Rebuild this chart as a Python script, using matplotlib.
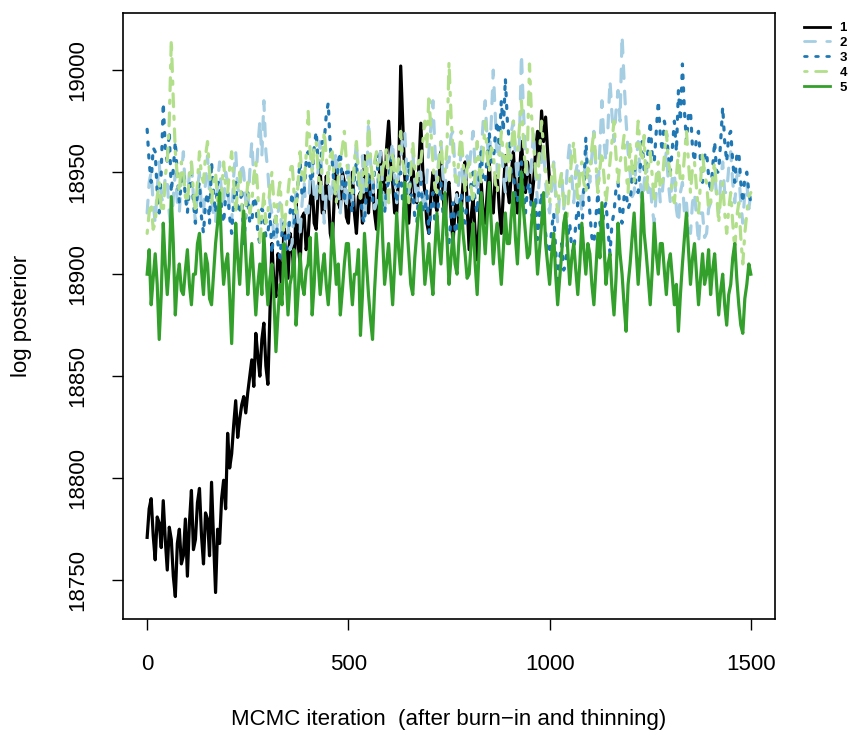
import numpy as np
import matplotlib
matplotlib.use("Agg")
import matplotlib.pyplot as plt
from matplotlib.lines import Line2D

plt.rcParams['font.family'] = ['Liberation Sans', 'DejaVu Sans']

# Thinned MCMC log-posterior traces, one stored value every 5 iterations
step = 5

chain1 = [
    18771, 18785, 18790, 18772, 18760, 18781, 18778, 18766, 18789, 18770,
    18755, 18776, 18770, 18752, 18742, 18768, 18775, 18758, 18762, 18780,
    18752, 18778, 18794, 18765, 18770, 18788, 18795, 18772, 18758, 18783,
    18780, 18762, 18798, 18770, 18744, 18775, 18768, 18790, 18799, 18785,
    18822, 18805, 18812, 18826, 18838, 18820, 18829, 18836, 18840, 18832,
    18842, 18850, 18858, 18845, 18871, 18860, 18850, 18868, 18876, 18855,
    18846, 18881, 18915, 18895, 18889, 18910, 18905, 18890, 18925, 18912,
    18898, 18920, 18913, 18900, 18935, 18915, 18905, 18928, 18930, 18912,
    18918, 18935, 18945, 18925, 18922, 18940, 18951, 18930, 18930, 18948,
    18940, 18920, 18915, 18938, 18955, 18935, 18932, 18950, 18945, 18928,
    18925, 18942, 18950, 18930, 18920, 18938, 18940, 18925, 18958, 18940,
    18930, 18948, 18947, 18930, 18922, 18940, 18960, 18942, 18935, 18962,
    18975, 18955, 18945, 18930, 18930, 18950, 19002, 18975, 18948, 18935,
    18925, 18942, 18955, 18938, 18935, 18952, 18974, 18950, 18940, 18925,
    18920, 18938, 18950, 18935, 18931, 18948, 18960, 18940, 18925, 18942,
    18945, 18930, 18915, 18932, 18940, 18922, 18930, 18945, 18955, 18935,
    18912, 18928, 18938, 18920, 18907, 18925, 18945, 18930, 18925, 18940,
    18955, 18935, 18930, 18948, 18948, 18932, 18920, 18940, 18958, 18942,
    18935, 18950, 18960, 18942, 18930, 18948, 18965, 18950, 18940, 18955,
    18950, 18935, 18945, 18960, 18970, 18955, 18980, 18965, 18977, 18960,
    18945,
]

chain2 = [
    18930, 18945, 18950, 18935, 18925, 18942, 18955, 18938, 18935, 18948,
    18945, 18930, 18920, 18938, 18950, 18935, 18930, 18948, 18960, 18940,
    18935, 18950, 18955, 18938, 18925, 18942, 18950, 18932, 18930, 18945,
    18958, 18940, 18940, 18928, 18925, 18945, 18955, 18938, 18935, 18950,
    18945, 18930, 18925, 18948, 18960, 18942, 18940, 18955, 18950, 18935,
    18930, 18950, 18965, 18948, 18945, 18962, 18975, 18958, 18985, 18960,
    18950, 18935, 18930, 18918, 18915, 18930, 18935, 18920, 18907, 18922,
    18925, 18912, 18915, 18932, 18940, 18925, 18920, 18935, 18945, 18930,
    18930, 18948, 18955, 18938, 18935, 18952, 18965, 18945, 18925, 18940,
    18950, 18935, 18940, 18955, 18960, 18942, 18930, 18948, 18945, 18932,
    18955, 18940, 18935, 18952, 18965, 18945, 18940, 18958, 18925, 18942,
    18975, 18955, 18945, 18932, 18935, 18950, 18960, 18942, 18930, 18945,
    18945, 18958, 18965, 18948, 18935, 18950, 18955, 18968, 18970, 18952,
    18940, 18955, 18960, 18945, 18935, 18950, 18950, 18935, 18930, 18948,
    18960, 18972, 18985, 18962, 18945, 18958, 18965, 18948, 18940, 18955,
    18955, 18968, 18970, 18950, 18935, 18948, 18960, 18942, 18945, 18958,
    18950, 18962, 18970, 18952, 18940, 18955, 18960, 18975, 18985, 18965,
    18955, 18975, 19000, 18978, 18950, 18962, 18965, 18948, 18940, 18955,
    18960, 18970, 18975, 18958, 18945, 18965, 19008, 18980, 18960, 18948,
    18940, 18955, 18970, 18950, 18935, 18948, 18955, 18962, 18945, 18935,
    18930, 18942, 18955, 18938, 18925, 18940, 18950, 18932, 18940, 18955,
    18965, 18948, 18935, 18950, 18955, 18942, 18930, 18945, 18960, 18950,
    18945, 18958, 18970, 18952, 18940, 18962, 18985, 18965, 18955, 18972,
    18995, 18978, 18965, 18980, 18990, 18975, 19017, 18995, 18975, 18960,
    18950, 18938, 18940, 18955, 18965, 18948, 18930, 18945, 18955, 18940,
    18945, 18932, 18925, 18940, 18950, 18935, 18940, 18952, 18960, 18945,
    18935, 18948, 18950, 18932, 18925, 18940, 18945, 18930, 18935, 18922,
    18920, 18935, 18940, 18928, 18915, 18930, 18930, 18918, 18920, 18932,
    18935, 18945, 18950, 18938, 18930, 18945, 18955, 18940, 18940, 18952,
    18960, 18945, 18935, 18948, 18950, 18935, 18925, 18940, 18945, 18932,
    18940,
]

chain3 = [
    18971, 18955, 18945, 18962, 18960, 18940, 18930, 18950, 18984, 18962,
    18955, 18970, 18940, 18952, 18965, 18948, 18935, 18945, 18950, 18938,
    18930, 18942, 18950, 18935, 18925, 18940, 18945, 18928, 18920, 18935,
    18940, 18925, 18955, 18940, 18930, 18945, 18945, 18932, 18925, 18938,
    18940, 18928, 18920, 18935, 18945, 18930, 18930, 18942, 18915, 18928,
    18940, 18925, 18925, 18938, 18935, 18920, 18915, 18932, 18930, 18918,
    18920, 18930, 18910, 18922, 18930, 18915, 18908, 18920, 18925, 18912,
    18915, 18930, 18940, 18925, 18930, 18945, 18955, 18938, 18940, 18955,
    18960, 18948, 18945, 18962, 18970, 18955, 18950, 18965, 18965, 18978,
    18984, 18962, 18955, 18942, 18940, 18955, 18960, 18945, 18935, 18950,
    18950, 18935, 18930, 18948, 18955, 18940, 18940, 18928, 18925, 18942,
    18950, 18938, 18935, 18952, 18960, 18945, 18945, 18932, 18930, 18942,
    18945, 18955, 18960, 18942, 18935, 18948, 18950, 18935, 18930, 18945,
    18955, 18938, 18940, 18928, 18925, 18940, 18945, 18932, 18930, 18942,
    18920, 18932, 18940, 18925, 18925, 18938, 18945, 18930, 18930, 18918,
    18915, 18928, 18935, 18922, 18920, 18932, 18940, 18928, 18925, 18938,
    18935, 18945, 18950, 18935, 18930, 18948, 18960, 18945, 18945, 18958,
    18970, 18955, 18955, 18968, 18975, 18962, 18985, 18970, 18996, 18975,
    18965, 18950, 18950, 18938, 18935, 18948, 18955, 18940, 18930, 18942,
    18945, 18930, 18925, 18938, 18917, 18930, 18940, 18925, 18920, 18912,
    18910, 18922, 18930, 18912, 18894, 18908, 18915, 18902, 18905, 18918,
    18925, 18912, 18910, 18925, 18935, 18920, 18920, 18942, 18967, 18945,
    18930, 18918, 18915, 18928, 18940, 18925, 18920, 18932, 18935, 18922,
    18910, 18925, 18930, 18942, 18945, 18930, 18925, 18938, 18940, 18932,
    18935, 18948, 18955, 18942, 18940, 18952, 18965, 18950, 18950, 18962,
    18975, 18958, 18955, 18970, 18985, 18968, 18960, 18975, 18970, 18958,
    18950, 18962, 18975, 18960, 18990, 18975, 19003, 18980, 18965, 18978,
    18980, 18962, 18955, 18968, 18970, 18955, 18945, 18958, 18960, 18948,
    18940, 18952, 18965, 18950, 18950, 18965, 18982, 18965, 18955, 18968,
    18970, 18955, 18945, 18958, 18960, 18945, 18935, 18948, 18950, 18940,
    18935,
]

chain4 = [
    18920, 18930, 18935, 18922, 18925, 18938, 18945, 18932, 18930, 18948,
    18955, 18975, 19015, 18985, 18960, 18948, 18940, 18955, 18950, 18938,
    18935, 18948, 18955, 18940, 18930, 18945, 18960, 18948, 18945, 18958,
    18965, 18950, 18935, 18945, 18950, 18935, 18925, 18940, 18955, 18942,
    18940, 18952, 18960, 18945, 18930, 18942, 18950, 18935, 18920, 18932,
    18945, 18930, 18935, 18948, 18955, 18940, 18915, 18928, 18940, 18925,
    18930, 18942, 18950, 18935, 18925, 18938, 18945, 18930, 18920, 18932,
    18940, 18950, 18955, 18940, 18930, 18945, 18960, 18948, 18945, 18958,
    18980, 18960, 18950, 18962, 18965, 18950, 18940, 18955, 18970, 18958,
    18945, 18958, 18960, 18945, 18935, 18948, 18955, 18962, 18970, 18955,
    18950, 18938, 18940, 18955, 18965, 18950, 18935, 18948, 18955, 18942,
    18975, 18958, 18945, 18955, 18960, 18948, 18940, 18952, 18955, 18962,
    18935, 18948, 18960, 18950, 18945, 18958, 18970, 18955, 18950, 18940,
    18935, 18950, 18965, 18952, 18945, 18958, 18955, 18965, 18975, 18962,
    18988, 18970, 18955, 18942, 18940, 18955, 18965, 18952, 18950, 18962,
    19004, 18978, 18960, 18948, 18945, 18958, 18970, 18955, 18940, 18952,
    18955, 18942, 18935, 18950, 18965, 18952, 18945, 18960, 18975, 18958,
    18950, 18962, 18960, 18945, 18940, 18955, 18970, 18958, 18955, 18965,
    18945, 18960, 18975, 18962, 18960, 18972, 18985, 18965, 18950, 18962,
    19003, 18978, 18965, 18950, 18945, 18960, 18975, 18962, 18950, 18942,
    18935, 18948, 18955, 18942, 18930, 18945, 18950, 18935, 18920, 18932,
    18945, 18958, 18965, 18950, 18935, 18948, 18955, 18945, 18940, 18952,
    18950, 18962, 18970, 18955, 18940, 18952, 18960, 18948, 18935, 18945,
    18955, 18965, 18975, 18958, 18945, 18955, 18960, 18968, 18950, 18940,
    18965, 18952, 18945, 18960, 18975, 18962, 18955, 18968, 18940, 18952,
    18960, 18948, 18935, 18948, 18955, 18942, 18945, 18958, 18970, 18955,
    18950, 18938, 18935, 18948, 18960, 18945, 18945, 18958, 18970, 18955,
    18940, 18952, 18955, 18942, 18930, 18945, 18960, 18948, 18945, 18932,
    18935, 18948, 18955, 18940, 18925, 18938, 18945, 18930, 18920, 18932,
    18940, 18925, 18912, 18928, 18935, 18918, 18905, 18920, 18930, 18938,
    18940,
]

chain5 = [
    18900, 18912, 18885, 18898, 18910, 18895, 18868, 18890, 18925, 18905,
    18890, 18905, 18938, 18915, 18880, 18898, 18905, 18892, 18890, 18902,
    18912, 18895, 18885, 18900, 18900, 18915, 18920, 18902, 18890, 18910,
    18905, 18888, 18885, 18900, 18915, 18925, 18940, 18912, 18895, 18905,
    18910, 18890, 18866, 18895, 18925, 18908, 18895, 18915, 18931, 18910,
    18890, 18902, 18915, 18898, 18880, 18895, 18905, 18890, 18920, 18900,
    18885, 18898, 18905, 18888, 18862, 18880, 18895, 18885, 18915, 18900,
    18880, 18895, 18900, 18912, 18875, 18890, 18910, 18895, 18890, 18902,
    18905, 18918, 18880, 18895, 18920, 18905, 18890, 18902, 18910, 18895,
    18885, 18900, 18925, 18910, 18895, 18905, 18880, 18892, 18905, 18915,
    18915, 18898, 18885, 18900, 18900, 18912, 18870, 18890, 18920, 18905,
    18890, 18878, 18868, 18892, 18910, 18925, 18945, 18918, 18895, 18905,
    18915, 18900, 18885, 18905, 18930, 18912, 18900, 18920, 18945, 18925,
    18910, 18895, 18890, 18908, 18920, 18932, 18935, 18915, 18895, 18905,
    18915, 18900, 18890, 18912, 18930, 18915, 18905, 18922, 18940, 18918,
    18895, 18908, 18920, 18905, 18900, 18918, 18935, 18920, 18910, 18898,
    18900, 18915, 18925, 18905, 18890, 18912, 18940, 18925, 18910, 18928,
    18945, 18925, 18905, 18918, 18925, 18908, 18895, 18912, 18930, 18915,
    18915, 18930, 18940, 18918, 18905, 18925, 18950, 18932, 18920, 18908,
    18910, 18925, 18935, 18918, 18900, 18912, 18925, 18940, 18915, 18905,
    18895, 18910, 18920, 18900, 18885, 18898, 18910, 18925, 18930, 18912,
    18895, 18908, 18915, 18902, 18890, 18905, 18925, 18912, 18900, 18915,
    18910, 18895, 18885, 18902, 18920, 18908, 18935, 18915, 18895, 18905,
    18910, 18892, 18880, 18898, 18925, 18910, 18900, 18885, 18872, 18895,
    18905, 18918, 18930, 18912, 18895, 18910, 18940, 18920, 18910, 18898,
    18885, 18902, 18925, 18910, 18900, 18915, 18915, 18902, 18890, 18905,
    18910, 18898, 18885, 18895, 18872, 18890, 18905, 18918, 18930, 18912,
    18895, 18908, 18915, 18900, 18885, 18898, 18910, 18895, 18900, 18912,
    18890, 18902, 18910, 18895, 18880, 18892, 18900, 18885, 18875, 18890,
    18895, 18908, 18915, 18898, 18885, 18875, 18871, 18888, 18895, 18905,
    18900,
]

chain_labels = ["1", "2", "3", "4", "5"]
chain_colors = ["#000000", "#A6CEE3", "#1F78B4", "#B2DF8A", "#33A02C"]
chain_styles = ["-", (0, (4, 4)), (0, (1, 3)), (0, (1, 3, 4, 3)), "-"]

x_ticks = [0, 500, 1000, 1500]
y_ticks = [18750, 18800, 18850, 18900, 18950, 19000]

W, H = 849, 738
fig = plt.figure(figsize=(W / 100, H / 100), dpi=100)
ax = fig.add_axes([123 / W, 1 - 619 / H, (775 - 123) / W, (619 - 13) / H])

chains = [chain1, chain2, chain3, chain4, chain5]
handles = []
for vals, col, ls, lab in zip(chains, chain_colors, chain_styles, chain_labels):
    it = np.arange(len(vals)) * step
    ax.plot(it, vals, color=col, linestyle=ls, linewidth=2.3,
            dash_capstyle="round", label=lab)
    handles.append(Line2D([], [], color=col, linestyle=ls, linewidth=2.0,
                          dash_capstyle="round"))

ax.set_xlim(-60, 1560)
ax.set_ylim(18731, 19028)
ax.set_xticks(x_ticks)
ax.set_yticks(y_ticks)
ax.set_xticklabels([str(v) for v in x_ticks])
ax.set_yticklabels([str(v) for v in y_ticks], rotation=90, va="center")
ax.tick_params(axis="both", direction="out", length=8, width=1.0,
               labelsize=16, color="black")
ax.tick_params(axis="x", pad=17)
ax.tick_params(axis="y", pad=17)
for sp in ax.spines.values():
    sp.set_linewidth(1.2)
    sp.set_color("black")

fig.text(449 / W, 1 - 720 / H, "MCMC iteration  (after burn\u2212in and thinning)",
         ha="center", va="center", fontsize=16)
fig.text(22 / W, 1 - 316 / H, "log posterior", ha="center", va="center",
         rotation=90, fontsize=16)

ax.legend(handles, chain_labels, loc="upper left",
          bbox_to_anchor=(804 / W, 1 - 22 / H),
          bbox_transform=fig.transFigure, frameon=False,
          prop={"weight": "bold", "size": 9.5},
          handlelength=2.0, handletextpad=0.7, labelspacing=0.2,
          borderaxespad=0, borderpad=0)

fig.savefig("out.png", dpi=100)
